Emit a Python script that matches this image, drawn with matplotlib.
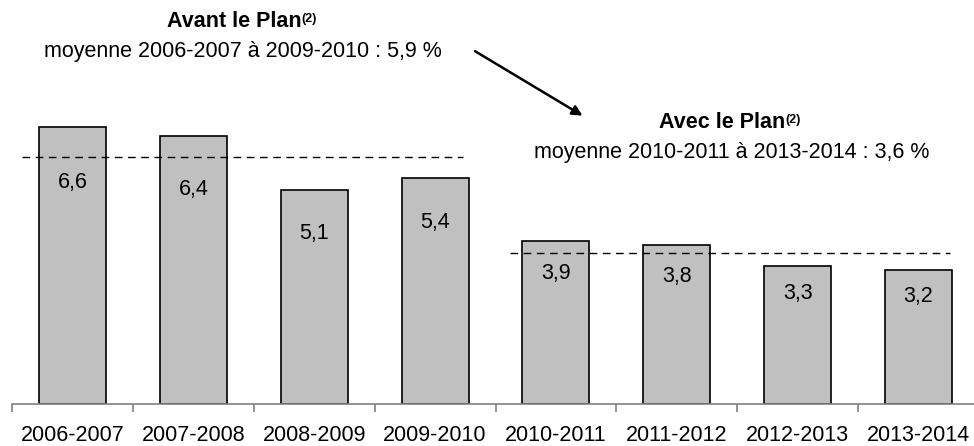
import numpy as np
import matplotlib
matplotlib.use('Agg')
import matplotlib.pyplot as plt

plt.rcParams['font.family'] = ['Liberation Sans', 'DejaVu Sans']

years = ['2006-2007', '2007-2008', '2008-2009', '2009-2010',
         '2010-2011', '2011-2012', '2012-2013', '2013-2014']
values = [6.6, 6.4, 5.1, 5.4, 3.9, 3.8, 3.3, 3.2]
labels = ['6,6', '6,4', '5,1', '5,4', '3,9', '3,8', '3,3', '3,2']
avg_before = 5.9
avg_after = 3.6

fs = 15.5
fig = plt.figure(figsize=(9.74, 4.46), dpi=100)
ax = fig.add_axes([12/974, 42/446, 967/974, 404/446])

x = np.arange(len(years))
ax.bar(x, values, width=0.555, color='#c0c0c0', edgecolor='black', linewidth=1.2, zorder=2)
for xi, v, lab in zip(x, values, labels):
    ax.text(xi, 0.8*v, lab, ha='center', va='center', fontsize=fs, zorder=4)

# moyennes
ax.plot([-0.418, 3.23], [avg_before, avg_before], color='black', lw=1,
        dashes=(5.5, 4), zorder=3)
ax.plot([3.62, 7.26], [avg_after, avg_after], color='black', lw=1,
        dashes=(5.5, 4), zorder=3)

t1 = ax.text(1.336, 9.12, 'Avant le Plan', ha='center', va='center',
             fontsize=fs, fontweight='bold')
ax.annotate('(2)', xy=(1.0, 0.93), xycoords=t1, ha='left', va='top',
            fontsize=9, fontweight='bold')
ax.text(1.41, 8.40, 'moyenne 2006-2007 à 2009-2010 : 5,9 %', ha='center', va='center',
        fontsize=fs)
t2 = ax.text(5.372, 6.71, 'Avec le Plan', ha='center', va='center',
             fontsize=fs, fontweight='bold')
ax.annotate('(2)', xy=(1.0, 0.93), xycoords=t2, ha='left', va='top',
            fontsize=9, fontweight='bold')
ax.text(5.45, 5.99, 'moyenne 2010-2011 à 2013-2014 : 3,6 %', ha='center', va='center',
        fontsize=fs)
ax.annotate('', xy=(4.22, 6.88), xytext=(3.33, 8.42),
            arrowprops=dict(arrowstyle='-|>', color='black', lw=1.8,
                            mutation_scale=15, shrinkA=0, shrinkB=0))

ax.set_xlim(-0.5, 7.5)
ax.set_ylim(0, 9.64)
for s in ['top', 'right', 'left']:
    ax.spines[s].set_visible(False)
ax.spines['bottom'].set_color('#808080')
ax.spines['bottom'].set_linewidth(1.2)
ax.set_yticks([])
ax.set_xticks(x)
ax.set_xticklabels(years, fontsize=fs)
ax.tick_params(axis='x', which='major', length=0, pad=15)
ax.set_xticks(np.arange(-0.5, 8, 1), minor=True)
ax.tick_params(axis='x', which='minor', length=6, width=1.2, color='#808080', direction='out')

fig.savefig('out.png', dpi=100)
